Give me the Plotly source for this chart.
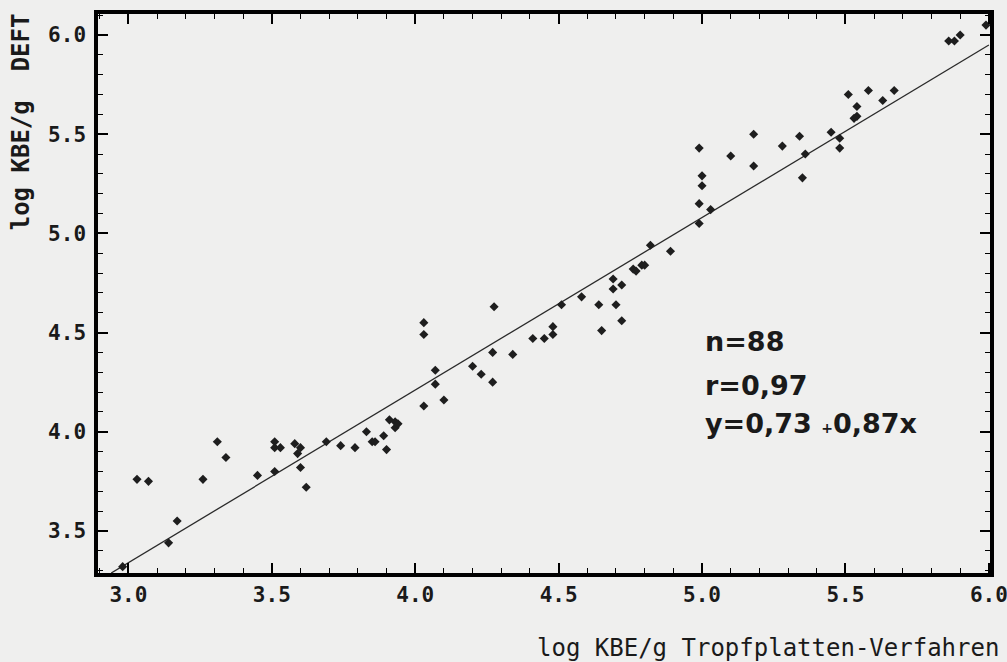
import plotly.graph_objects as go

# log KBE/g, Tropfplatten-Verfahren (x) vs DEFT (y)
x_tropf = [2.98, 3.03, 3.07, 3.14, 3.17, 3.26, 3.31, 3.34, 3.45, 3.51,
           3.51, 3.53, 3.51, 3.58, 3.59, 3.60, 3.60, 3.62, 3.69, 3.74,
           3.79, 3.83, 3.85, 3.86, 3.89, 3.90, 3.91, 3.93, 3.93, 3.94,
           4.03, 4.03, 4.03, 4.07, 4.07, 4.10, 4.20, 4.23, 4.27, 4.27,
           4.275, 4.34, 4.41, 4.45, 4.48, 4.48, 4.51, 4.58, 4.64, 4.65,
           4.69, 4.69, 4.72, 4.70, 4.72, 4.76, 4.77, 4.79, 4.80, 4.82,
           4.89, 4.99, 5.00, 5.00, 4.99, 5.03, 4.99, 5.10, 5.18, 5.18,
           5.28, 5.34, 5.36, 5.35, 5.45, 5.48, 5.48, 5.51, 5.54, 5.53,
           5.54, 5.58, 5.63, 5.67, 5.86, 5.88, 5.90, 5.99]
y_deft = [3.32, 3.76, 3.75, 3.44, 3.55, 3.76, 3.95, 3.87, 3.78, 3.95,
          3.92, 3.92, 3.80, 3.94, 3.89, 3.92, 3.82, 3.72, 3.95, 3.93,
          3.92, 4.00, 3.95, 3.95, 3.98, 3.91, 4.06, 4.05, 4.02, 4.04,
          4.55, 4.49, 4.13, 4.31, 4.24, 4.16, 4.33, 4.29, 4.40, 4.25,
          4.63, 4.39, 4.47, 4.47, 4.49, 4.53, 4.64, 4.68, 4.64, 4.51,
          4.77, 4.72, 4.74, 4.64, 4.56, 4.82, 4.81, 4.84, 4.84, 4.94,
          4.91, 5.43, 5.29, 5.24, 5.15, 5.12, 5.05, 5.39, 5.50, 5.34,
          5.44, 5.49, 5.40, 5.28, 5.51, 5.48, 5.43, 5.70, 5.64, 5.58,
          5.59, 5.72, 5.67, 5.72, 5.97, 5.97, 6.00, 6.05]

# regression y = a + b x
reg_a = 0.73
reg_b = 0.87
reg_x = [2.94, 6.0]
reg_y = [reg_a + reg_b * v for v in reg_x]

x_ticks = [3.0, 3.5, 4.0, 4.5, 5.0, 5.5, 6.0]
y_ticks = [3.5, 4.0, 4.5, 5.0, 5.5, 6.0]
x_tick_text = ["3.0", "3.5", "4.0", "4.5", "5.0", "5.5", "6.0"]
y_tick_text = ["3.5", "4.0", "4.5", "5.0", "5.5", "6.0"]

stats_lines = ["n=88", "r=0,97", "y=0,73 <span style='font-size:14px'>+</span>0,87x"]

x_title = "log KBE/g Tropfplatten-Verfahren"
y_title = "log KBE/g\u00a0\u00a0DEFT"

bg = "#efefee"
mono = "DejaVu Sans Mono, Liberation Mono, monospace"

fig = go.Figure()
fig.add_trace(go.Scatter(x=reg_x, y=reg_y, mode="lines",
                         line=dict(color="#2a2a2a", width=1.3),
                         showlegend=False, hoverinfo="skip"))
fig.add_trace(go.Scatter(x=x_tropf, y=y_deft, mode="markers",
                         marker=dict(symbol="diamond", size=7, color="#1e1e1e",
                                     line=dict(width=0)),
                         showlegend=False))

axis_common = dict(
    showgrid=False, zeroline=False,
    showline=True, linecolor="black", linewidth=3.5, mirror="ticks",
    ticks="inside", ticklen=10, tickwidth=1.5, tickcolor="black",
    tickfont=dict(family=mono, size=21, color="#1a1a1a", weight="bold"),
    ticklabeloverflow="allow", automargin=False,
)

fig.update_xaxes(range=[2.894, 6.004], tickvals=x_ticks, ticktext=x_tick_text,
                 minor=dict(ticks="inside", ticklen=5, tickwidth=1.2,
                            tickcolor="black", dtick=0.1, tick0=3.0),
                 **axis_common)
fig.update_yaxes(range=[3.288, 6.106], tickvals=y_ticks, ticktext=y_tick_text,
                 minor=dict(ticks="inside", ticklen=5, tickwidth=1.2,
                            tickcolor="black", dtick=0.1, tick0=3.0),
                 ticklabelstandoff=4,
                 **axis_common)

fig.add_annotation(text=x_title, xref="paper", yref="paper",
                   x=1.012, y=-0.135, xanchor="right", yanchor="middle",
                   showarrow=False,
                   font=dict(family=mono, size=24, color="#1a1a1a"))
fig.add_annotation(text="<b>" + y_title + "</b>", xref="paper", yref="paper",
                   x=-0.087, y=0.807, xanchor="center", yanchor="middle",
                   textangle=-90, showarrow=False,
                   font=dict(family=mono, size=24, color="#1a1a1a"))

stats_y = [0.414, 0.335, 0.268]
for txt, yy in zip(stats_lines, stats_y):
    fig.add_annotation(text=txt, xref="paper", yref="paper",
                       x=0.678, y=yy, xanchor="left", yanchor="middle",
                       showarrow=False,
                       font=dict(family="DejaVu Sans, sans-serif", size=27,
                                 color="#1a1a1a", weight="bold"))

fig.update_layout(
    width=1007, height=662,
    margin=dict(l=98, r=17, t=14, b=89, autoexpand=False),
    paper_bgcolor=bg, plot_bgcolor=bg,
    showlegend=False,
)

fig.write_html("out.html",
               config={"displayModeBar": False},
               post_script="document.body.style.margin='0';"
                           "document.body.style.background='" + bg + "';")
